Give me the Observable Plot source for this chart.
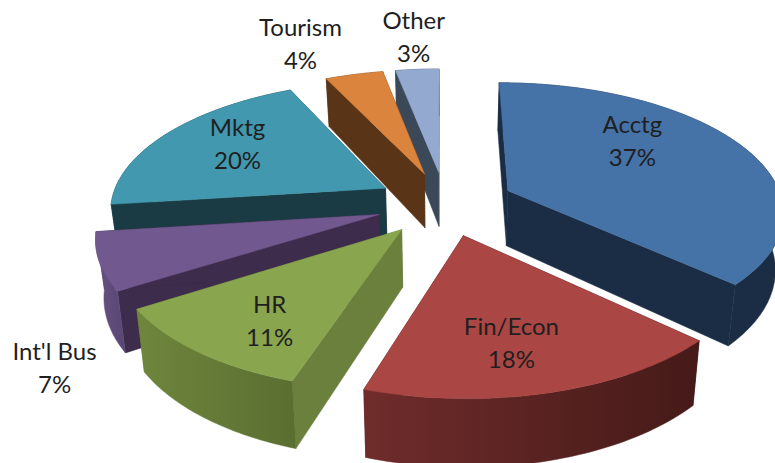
<!DOCTYPE html>
<html><head><meta charset="utf-8">
<script src="https://cdn.jsdelivr.net/npm/d3@7"></script>
<script src="https://cdn.jsdelivr.net/npm/@observablehq/plot@0.6"></script>
<style>body{margin:0;background:#fff}svg{display:block}</style>
</head><body><div id="c"></div>
<script>
const names=["Acctg","Fin/Econ","HR","Int'l Bus","Mktg","Tourism","Other"];
const shares=[37,18,11,7,20,4,3];
const tops=["#4572a7","#aa4643","#89a54e","#71588f","#4198af","#db843d","#93a9cf"];
const radialWalls=["#1b2d44","#451a18","#6b803c","#3d2c4b","#1a3a44","#5a3417","#3b4858"];
const rimLeft=["#1b2d44","#6f2c2b","#6f863d","#65527f","#1a3a44","#5a3417","#3b4858"];
const rimRight=["#1b2d44","#451a18","#5a6e30","#5a4676","#1a3a44","#5a3417","#3b4858"];
const labelRadius=[0.656,0.713,0.736,1.379,0.699,1.411,1.368];
const labelTurn=[-16.5,3,-4.1,-26.36,3.8,-5.6,0.6];
const drawOrder=[6,5,4,3,2,0,1];

// view of the tilted, exploded pie, fitted to the picture
const view={cx:444.8,cy:202.88,a:275.21,b:127.66,p:0.15,explode:0.2519,phi:-0.1612,depth:55.89,taper:0.0242};

const rad=d=>d*Math.PI/180;
let run=0;
const spans=shares.map(s=>{const r=[run*3.6,(run+s)*3.6];run+=s;return r;});
function project(i,deg,r,low){
  const {cx,cy,a,b,p,explode,phi,depth,taper}=view;
  const m=(spans[i][0]+spans[i][1])/2+phi,t=deg+phi;
  const X=explode*Math.sin(rad(m))+r*Math.sin(rad(t)),Y=explode*Math.cos(rad(m))+r*Math.cos(rad(t));
  const w=1+p*Y;
  let x=cx+a*X/w,y=cy-b*Y/w;
  if(low){x=cx+(x-cx)*(1-taper);y+=depth/w;}
  return [x,y];
}
const faces=[];let id=0;
const poly=(pts,fill)=>{id++;for(const [x,y] of pts)faces.push({x,y,id,fill});};
for(const i of drawOrder){
  const [t0,t1]=spans[i],N=48;
  const ap=project(i,0,0,false),ab=project(i,0,0,true);
  const arc=d3.range(N+1).map(k=>t0+(t1-t0)*k/N);
  for(const t of [t0,t1])poly([ap,project(i,t,1,false),project(i,t,1,true),ab,ap],radialWalls[i]);
  const outer=[...arc.map(t=>project(i,t,1,false)),...arc.slice().reverse().map(t=>project(i,t,1,true))];
  poly([...outer,outer[0]],`url(#rim${i})`);
  poly([ap,...arc.map(t=>project(i,t,1,false)),ap],tops[i]);
}
const labels=names.map((n,i)=>{
  const mid=(spans[i][0]+spans[i][1])/2;
  const [x,y]=project(i,mid+labelTurn[i],labelRadius[i],false);
  return {x,y,text:`${n}\n${shares[i]}%`};
});
const defs=()=>{
  const s=d3.create("svg:defs");
  names.forEach((_,i)=>{
    const g=s.append("linearGradient").attr("id",`rim${i}`);
    g.append("stop").attr("offset","0").attr("stop-color",rimLeft[i]);
    g.append("stop").attr("offset","1").attr("stop-color",rimRight[i]);
  });
  return s.node();
};
document.getElementById("c").append(Plot.plot({
  width:775,height:463,margin:0,
  x:{domain:[0,775],range:[0,775],axis:null},
  y:{domain:[0,463],range:[0,463],axis:null},
  color:{type:"identity"},
  style:{background:"#fff"},
  marks:[
    defs,
    Plot.line(faces,{x:"x",y:"y",z:"id",fill:"fill",stroke:"fill",strokeWidth:0.5}),
    Plot.text(labels,{x:"x",y:"y",dy:-2.5,text:"text",fontFamily:"Lato",fontSize:24,lineHeight:1.36,fill:"#1f1f1f",textAnchor:"middle"})
  ]
}));
</script></body></html>
